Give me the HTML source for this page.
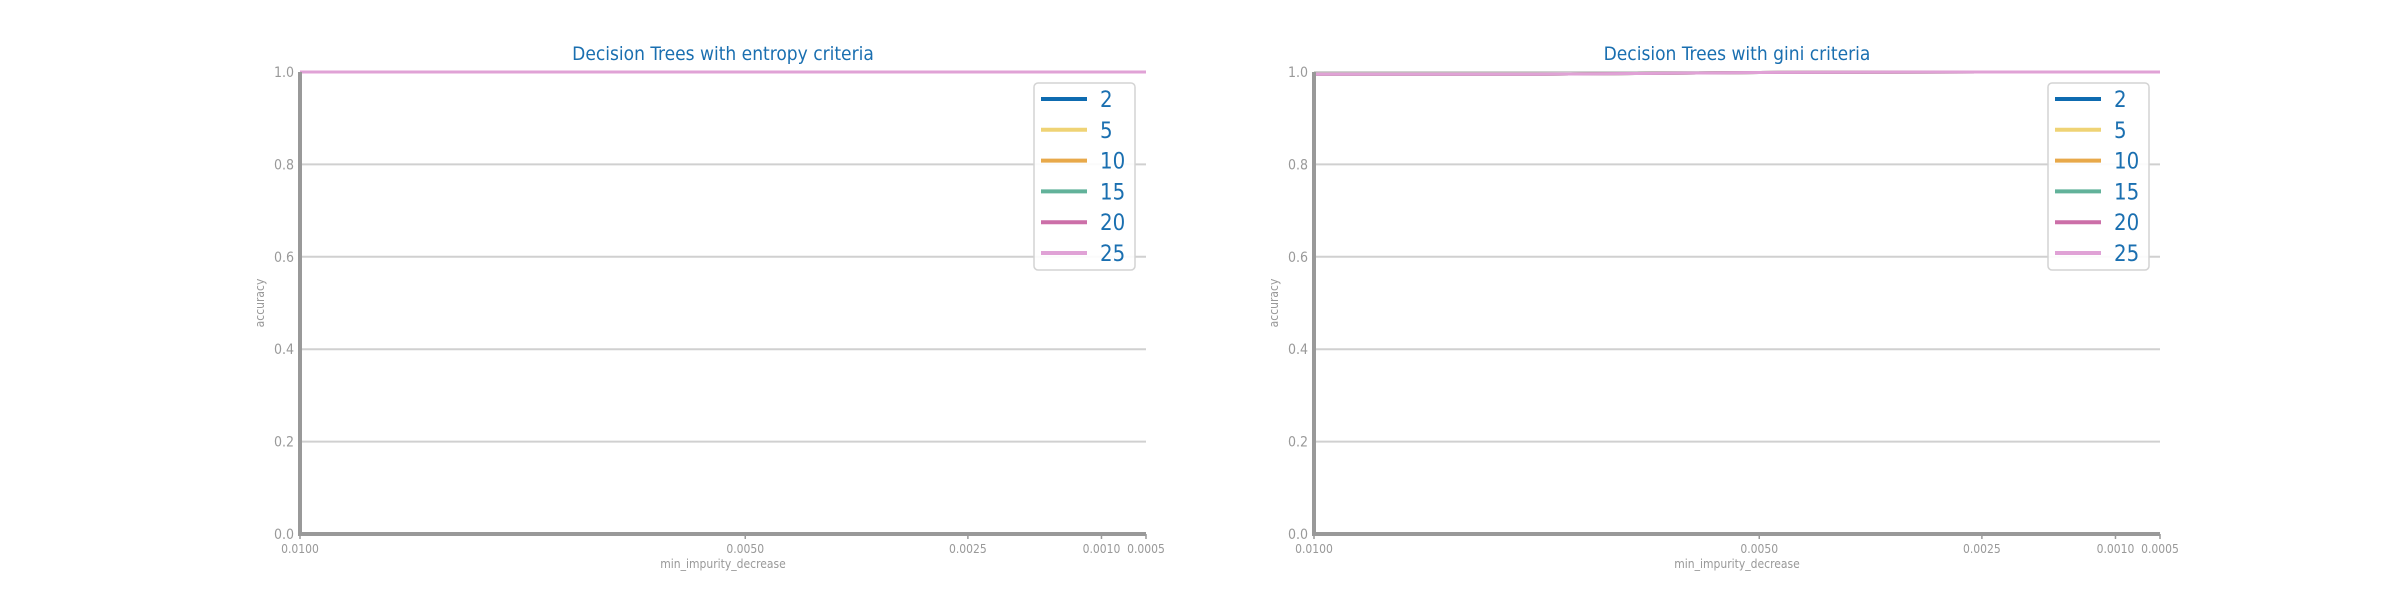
<!DOCTYPE html>
<html><head><meta charset="utf-8"><style>
body{margin:0;background:#fff;}
svg{display:block;font-family:"DejaVu Sans Condensed","DejaVu Sans","Liberation Sans",sans-serif;}
</style></head><body>
<svg id="chart" width="2400" height="600" viewBox="0 0 2400 600" xmlns="http://www.w3.org/2000/svg"></svg>
<script>
const xValues=[0.01,0.0075,0.005,0.0025,0.001,0.0005];
const xTicks=[0.01,0.005,0.0025,0.001,0.0005];
const xTickLabels=["0.0100","0.0050","0.0025","0.0010","0.0005"];
const yTicks=[0,0.2,0.4,0.6,0.8,1.0];
const yTickLabels=["0.0","0.2","0.4","0.6","0.8","1.0"];
const seriesNames=["2","5","10","15","20","25"];
const colors=["#0e6bb0","#efd375","#e8a94a","#62b29a","#cc6fa8","#e0a2d6"];
const entropyValues=[
 [1,1,1,1,1,1],[1,1,1,1,1,1],[1,1,1,1,1,1],[1,1,1,1,1,1],[1,1,1,1,1,1],[1,1,1,1,1,1]];
const giniValues=[
 [0.995,0.995,0.999,1,1,1],[0.995,0.995,0.999,1,1,1],[0.995,0.995,0.999,1,1,1],
 [0.995,0.995,0.999,1,1,1],[0.995,0.995,0.999,1,1,1],[0.995,0.995,0.999,1,1,1]];
const titles=["Decision Trees with entropy criteria","Decision Trees with gini criteria"];
const svg=document.getElementById('chart');
const NS="http://www.w3.org/2000/svg";
function mk(tag,attrs,parent){const e=document.createElementNS(NS,tag);for(const k in attrs)e.setAttribute(k,attrs[k]);(parent||svg).appendChild(e);return e;}
function panel(left,right,title,values,key){
 const top=72,bottom=534;
 const xs=v=>left+(0.01-v)/(0.01-0.0005)*(right-left);
 const ys=v=>bottom-v*(bottom-top);
 const g=mk('g',{});
 
 
 const t=mk('text',{x:(left+right)/2,y:60,'text-anchor':'middle','font-size':19,fill:'#1a6fb0'},g);
 t.textContent=title;
 
 
 yTicks.forEach((v,i)=>{
  if(v>0){const l=mk('line',{x1:left,x2:right,y1:ys(v),y2:ys(v),stroke:'#d0d0d0','stroke-width':2},g);
  
  }
  const tl=mk('text',{x:left-6,y:ys(v)+5,'text-anchor':'end','font-size':14,fill:'#999'},g);
  tl.textContent=yTickLabels[i];
  
  
 });
 xTicks.forEach((v,i)=>{
  mk('line',{x1:xs(v),x2:xs(v),y1:bottom,y2:bottom+5,stroke:'#999','stroke-width':1.5},g);
  const tl=mk('text',{x:xs(v),y:553,'text-anchor':'middle','font-size':12,fill:'#999'},g);
  tl.textContent=xTickLabels[i];
  
  
 });
 const xl=mk('text',{x:(left+right)/2,y:568,'text-anchor':'middle','font-size':12,fill:'#999'},g);
 xl.textContent='min_impurity_decrease';
 
 
 const yl=mk('text',{x:0,y:0,'text-anchor':'middle','font-size':12,fill:'#999',transform:`translate(${left-36},${(top+bottom)/2}) rotate(-90)`},g);
 yl.textContent='accuracy';
 
 
 values.forEach((vals,si)=>{
  const d=vals.map((v,i)=>(i?'L':'M')+xs(xValues[i])+','+ys(v)).join(' ');
  const p=mk('path',{d:d,fill:'none',stroke:colors[si],'stroke-width':3},g);
  
  
 });
 mk('line',{x1:left,x2:left,y1:top,y2:bottom+2,stroke:'#999','stroke-width':4},g);
 mk('line',{x1:left-2,x2:right,y1:bottom,y2:bottom,stroke:'#999','stroke-width':4},g);
 const lx=right-112,ly=83;
 const lg=mk('g',{},g);
 
 
 mk('rect',{x:lx,y:ly,width:101,height:187,rx:4,fill:'#fff','fill-opacity':0.9,stroke:'#d3d3d3','stroke-width':1.5},lg);
 seriesNames.forEach((n,i)=>{
  const cy=ly+16+i*30.8;
  const ln=mk('line',{x1:lx+7,x2:lx+53,y1:cy,y2:cy,stroke:colors[i],'stroke-width':4},lg);
  
  
  const tx=mk('text',{x:lx+66,y:cy+8,'font-size':22,fill:'#1a6fb0'},lg);
  tx.textContent=n;
  
  
 });
}
panel(300,1146,titles[0],entropyValues,'entropy');
panel(1314,2160,titles[1],giniValues,'gini');
</script>
</body></html>
